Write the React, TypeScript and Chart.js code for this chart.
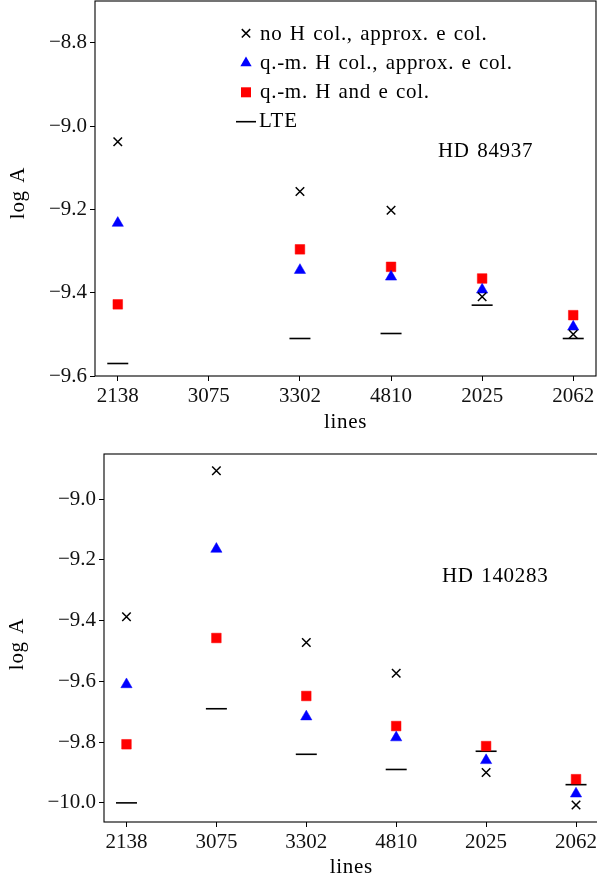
import React, { useEffect, useRef } from 'react';
import { Chart, registerables } from 'chart.js';
Chart.register(...registerables);

const lineLabels = ['2138', '3075', '3302', '4810', '2025', '2062'];
const seriesNames = ['no H col., approx. e col.', 'q.-m. H col., approx. e col.', 'q.-m. H and e col.', 'LTE'];

// HD 84937 (top panel), null = no measurement
const topNoH = [-9.038, null, -9.157, -9.202, -9.41, -9.5];
const topQmH = [-9.233, null, -9.346, -9.362, -9.393, -9.482];
const topQmHe = [-9.428, null, -9.296, -9.338, -9.366, -9.454];
const topLte = [-9.57, null, -9.51, -9.498, -9.43, -9.51];
const topTicks = [-9.6, -9.4, -9.2, -9.0, -8.8];
const topRange = [-9.6, -8.7];

// HD 140283 (bottom panel)
const botNoH = [-9.387, -8.906, -9.472, -9.573, -9.9, -10.007];
const botQmH = [-9.61, -9.164, -9.716, -9.785, -9.86, -9.97];
const botQmHe = [-9.807, -9.457, -9.648, -9.747, -9.813, -9.922];
const botLte = [-10.0, -9.69, -9.84, -9.89, -9.83, -9.94];
const botTicks = [-10.0, -9.8, -9.6, -9.4, -9.2, -9.0];
const botRange = [-10.063, -8.851];

const FONT = '"Liberation Serif", "DejaVu Serif", serif';
const FS = 21;

const fmt = (v: number) => (v < 0 ? '\u2212' : '') + Math.abs(v).toFixed(1);
const pts = (vals: (number | null)[]) =>
  vals.map((v, i) => (v === null ? null : { x: i, y: v })).filter((p) => p !== null);

interface PanelOpts {
  noH: (number | null)[]; qmH: (number | null)[]; qmHe: (number | null)[]; lte: (number | null)[];
  yTicks: number[]; yRange: number[];
  yAxisWidth: number; xAxisHeight: number; padTop: number; padRight: number;
  label: string; labelX: number; labelY: number;
  yTitleX: number; yTitleY: number; xTitleY: number; legend: boolean;
}

function spaced(ctx: any, on: boolean) {
  try {
    ctx.letterSpacing = on ? '0.7px' : '0px';
    ctx.wordSpacing = on ? '1.5px' : '0px';
  } catch (e) { /* ignore */ }
}

function drawLegend(ctx: CanvasRenderingContext2D) {
  const mx = 246;
  const rows = [33.3, 63, 92.3, 121.7];
  const bases = [39.5, 68.5, 97.5, 126.5];
  // cross
  ctx.strokeStyle = '#000';
  ctx.lineWidth = 1.5;
  ctx.beginPath();
  ctx.moveTo(mx - 4.2, rows[0] - 4.2); ctx.lineTo(mx + 4.2, rows[0] + 4.2);
  ctx.moveTo(mx - 4.2, rows[0] + 4.2); ctx.lineTo(mx + 4.2, rows[0] - 4.2);
  ctx.stroke();
  // triangle
  ctx.fillStyle = '#0000ff';
  ctx.beginPath();
  const r = 6.5, y1 = rows[1];
  ctx.moveTo(mx, y1 - r);
  ctx.lineTo(mx + r * 0.866, y1 + r / 2);
  ctx.lineTo(mx - r * 0.866, y1 + r / 2);
  ctx.closePath();
  ctx.fill();
  // square
  ctx.fillStyle = '#ff0000';
  ctx.fillRect(mx - 5, rows[2] - 5, 10, 10);
  // line
  ctx.strokeStyle = '#000';
  ctx.lineWidth = 1.6;
  ctx.beginPath();
  ctx.moveTo(236, rows[3]); ctx.lineTo(256, rows[3]);
  ctx.stroke();
  ctx.fillStyle = '#000';
  ctx.textAlign = 'left';
  ctx.textBaseline = 'alphabetic';
  spaced(ctx, true);
  seriesNames.forEach((n, i) => ctx.fillText(n, i === 3 ? 259 : 260, bases[i]));
  spaced(ctx, false);
}

function makeConfig(o: PanelOpts): any {
  const decor = {
    id: 'decor',
    afterDraw(chart: any) {
      const ctx: CanvasRenderingContext2D = chart.ctx;
      const a = chart.chartArea;
      ctx.save();
      ctx.strokeStyle = '#000';
      ctx.lineWidth = 1.1;
      ctx.strokeRect(a.left, a.top, a.right - a.left, a.bottom - a.top);
      ctx.fillStyle = '#000';
      ctx.font = `${FS}px ${FONT}`;
      ctx.textBaseline = 'alphabetic';
      ctx.textAlign = 'left';
      spaced(ctx, true);
      ctx.fillText(o.label, o.labelX, o.labelY);
      ctx.textAlign = 'center';
      ctx.fillText('lines', (a.left + a.right) / 2, o.xTitleY);
      ctx.save();
      ctx.translate(o.yTitleX, o.yTitleY);
      ctx.rotate(-Math.PI / 2);
      ctx.fillText('log A', 0, 0);
      ctx.restore();
      spaced(ctx, false);
      if (o.legend) drawLegend(ctx);
      ctx.restore();
    },
  };
  return {
    type: 'scatter',
    data: {
      datasets: [
        { label: seriesNames[3], data: pts(o.lte), pointStyle: 'line', pointRadius: 10.5, pointBorderColor: '#000', pointBackgroundColor: '#000', pointBorderWidth: 1.6, order: 3 },
        { label: seriesNames[0], data: pts(o.noH), pointStyle: 'crossRot', pointRadius: 6, pointBorderColor: '#000', pointBackgroundColor: '#000', pointBorderWidth: 1.5, order: 0 },
        { label: seriesNames[1], data: pts(o.qmH), pointStyle: 'triangle', pointRadius: 6.5, pointBorderColor: '#0000ff', pointBackgroundColor: '#0000ff', pointBorderWidth: 0.5, order: 1 },
        { label: seriesNames[2], data: pts(o.qmHe), pointStyle: 'rect', pointRadius: 6.8, pointBorderColor: '#ff0000', pointBackgroundColor: '#ff0000', pointBorderWidth: 0.5, order: 2 },
      ],
    },
    options: {
      responsive: false,
      animation: false,
      events: [],
      clip: false,
      layout: { autoPadding: false, padding: { top: o.padTop, right: o.padRight, left: 0, bottom: 0 } },
      plugins: { legend: { display: false }, tooltip: { enabled: false } },
      scales: {
        x: {
          type: 'linear',
          min: -0.25,
          max: 5.25,
          afterBuildTicks: (s: any) => { s.ticks = lineLabels.map((_, i) => ({ value: i })); },
          afterFit: (s: any) => { s.height = o.xAxisHeight; s.paddingLeft = 0; s.paddingRight = 0; },
          ticks: { callback: (v: any) => lineLabels[v], font: { family: FONT, size: FS }, color: '#111', maxRotation: 0, autoSkip: false, padding: 3 },
          grid: { display: true, drawOnChartArea: false, drawTicks: true, tickLength: 5, tickColor: '#000', tickWidth: 1 },
          border: { display: false },
        },
        y: {
          type: 'linear',
          min: o.yRange[0],
          max: o.yRange[1],
          afterBuildTicks: (s: any) => { s.ticks = o.yTicks.map((v) => ({ value: v })); },
          afterFit: (s: any) => { s.width = o.yAxisWidth; s.paddingTop = 0; s.paddingBottom = 0; },
          ticks: { callback: (v: any) => fmt(v), font: { family: FONT, size: FS }, color: '#111', padding: 3 },
          grid: { display: true, drawOnChartArea: false, drawTicks: true, tickLength: 5, tickColor: '#000', tickWidth: 1 },
          border: { display: false },
        },
      },
    },
    plugins: [decor],
  };
}

function Panel({ opts, top, width, height }: { opts: PanelOpts; top: number; width: number; height: number }) {
  const ref = useRef<HTMLCanvasElement>(null);
  useEffect(() => {
    const chart = new Chart(ref.current as HTMLCanvasElement, makeConfig(opts));
    return () => chart.destroy();
  }, []);
  return (
    <canvas ref={ref} width={width} height={height}
      style={{ position: 'absolute', left: 0, top, width, height, display: 'block' }} />
  );
}

const topOpts: PanelOpts = {
  noH: topNoH, qmH: topQmH, qmHe: topQmHe, lte: topLte, yTicks: topTicks, yRange: topRange,
  yAxisWidth: 95, xAxisHeight: 64, padTop: 1, padRight: 1,
  label: 'HD 84937', labelX: 438, labelY: 157,
  yTitleX: 23.5, yTitleY: 193, xTitleY: 428, legend: true,
};

const botOpts: PanelOpts = {
  noH: botNoH, qmH: botQmH, qmHe: botQmHe, lte: botLte, yTicks: botTicks, yRange: botRange,
  yAxisWidth: 104, xAxisHeight: 55, padTop: 14, padRight: 1.5,
  label: 'HD 140283', labelX: 442, labelY: 141.7,
  yTitleX: 23, yTitleY: 204, xTitleY: 433, legend: false,
};

export default function App() {
  return (
    <div style={{ position: 'fixed', left: 0, top: 0, width: 597, height: 877, overflow: 'hidden', background: '#fff' }}>
      <Panel opts={topOpts} top={0} width={597} height={440} />
      <Panel opts={botOpts} top={440} width={600} height={437} />
    </div>
  );
}
